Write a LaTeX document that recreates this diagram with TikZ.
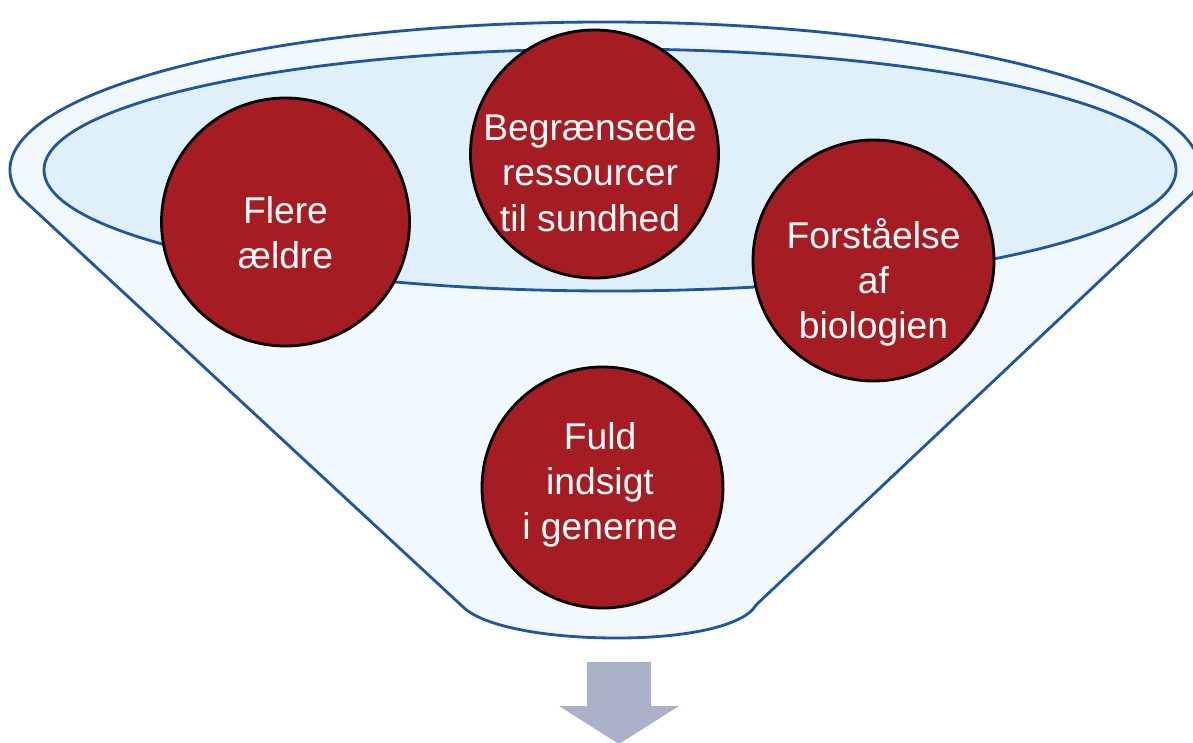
\documentclass[tikz,border=0pt]{standalone}
\usepackage{fontspec}
\setmainfont{Liberation Sans}
\definecolor{tragtlinje}{HTML}{1F569F}
\definecolor{tragtfyld}{HTML}{F1F8FE}
\definecolor{vandfyld}{HTML}{E0F0FB}
\definecolor{faktorrod}{HTML}{A51C22}
\definecolor{pilgraa}{HTML}{AAB2CA}
\tikzset{
  faktor/.style={circle,draw=black,line width=0.8pt,fill=faktorrod,inner sep=0pt},
  faktortekst/.style={text=white,align=center,inner sep=0pt,text depth=0pt,
    font=\fontsize{10.6}{12.9}\selectfont},
}
\begin{document}
\begin{tikzpicture}
      \useasboundingbox (0,0) rectangle (11.93,-7.42);
      \coordinate (K) at (6.05,-1.70);
      \coordinate (V) at (6.10,-1.70);
      \coordinate (BV) at (4.62,-6.06);
      \coordinate (BH) at (7.56,-6.05);
      \coordinate (B) at (6.17,-6.38);

      % tragt
      \draw[line width=0.8pt,draw=tragtlinje,fill=tragtfyld]
        ([shift={(190:5.95 and 1.48)}]K) arc[start angle=190,end angle=-9,x radius=5.95,y radius=1.48]
        -- (BH) .. controls (7.45,-6.25) and (6.90,-6.38) .. (B)
        .. controls (5.40,-6.38) and (4.80,-6.25) .. (BV) -- cycle;
      \draw[line width=0.8pt,draw=tragtlinje,fill=vandfyld] (V) ellipse[x radius=5.66,y radius=1.21];

      % faktorer
      \node[faktor,minimum size=2.48cm] (aeldre) at (2.855,-2.22) {};
      \node[faktor,minimum size=2.48cm] (ressourcer) at (5.945,-1.54) {};
      \node[faktor,minimum size=2.41cm] (biologi) at (8.735,-2.605) {};
      \node[faktor,minimum size=2.41cm] (generne) at (6.025,-4.875) {};

      \node[faktortekst] (aeldretekst) at (2.855,-2.325) {Flere\\ældre};
      \node[faktortekst] (ressourcertekst) at (5.90,-1.725) {Begrænsede\\ressourcer\\til sundhed};
      \node[faktortekst] (biologitekst) at (8.735,-2.785) {Forståelse\\af\\biologien};
      \node[faktortekst] (generneltekst) at (6.00,-4.81) {Fuld\\indsigt\\i generne};

      % pil
      \fill[pilgraa] (5.87,-6.62) -- (6.51,-6.62) -- (6.51,-7.06) -- (6.79,-7.06)
        -- (6.19,-7.44) -- (5.59,-7.06) -- (5.87,-7.06) -- cycle;
    \end{tikzpicture}
\end{document}
